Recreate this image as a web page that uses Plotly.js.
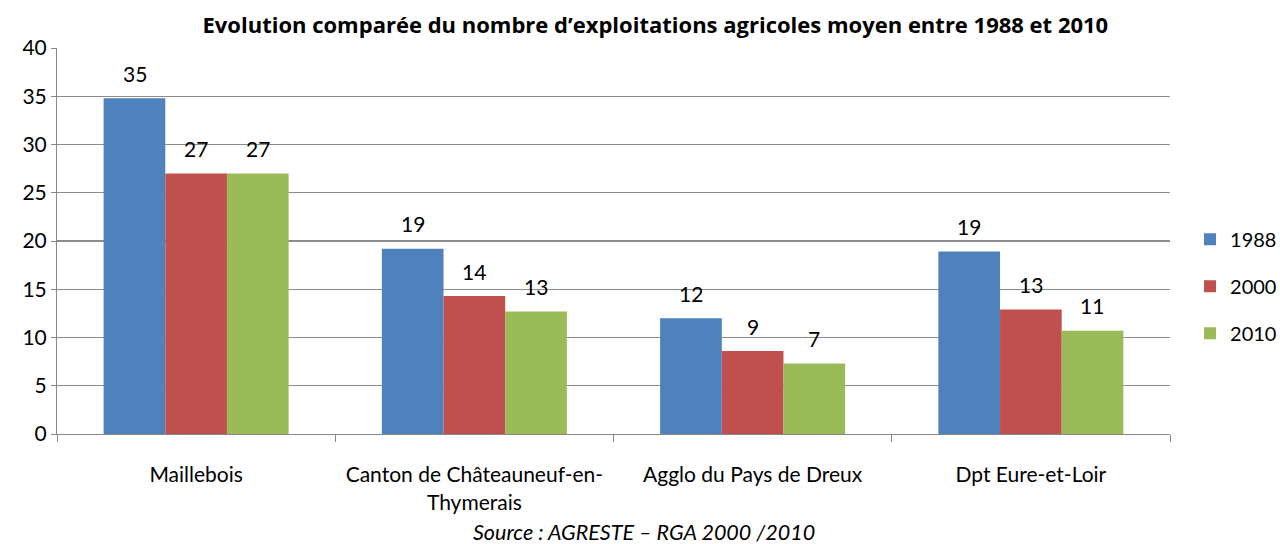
<!DOCTYPE html>
<html>
<head>
<meta charset="utf-8">
<script src="https://cdn.plot.ly/plotly-3.0.1.min.js"></script>
<style>html,body{margin:0;padding:0;background:#fff;}#chart{width:1280px;height:544px;}</style>
</head>
<body>
<div id="chart"></div>
<script>
const categories = ["Maillebois", "Canton de Châteauneuf-en-<br>Thymerais", "Agglo du Pays de Dreux", "Dpt Eure-et-Loir"];
const seriesNames = ["1988", "2000", "2010"];
const values1988 = [34.8, 19.2, 12.0, 18.9];
const values2000 = [27.0, 14.3, 8.6, 12.9];
const values2010 = [27.0, 12.7, 7.3, 10.7];
const labels1988 = ["35", "19", "12", "19"];
const labels2000 = ["27", "14", "9", "13"];
const labels2010 = ["27", "13", "7", "11"];
const colors = ["#4F81BD", "#C0504D", "#9BBB59"];
const yTicks = [0, 5, 10, 15, 20, 25, 30, 35, 40];

const FONT = "Lato, 'Open Sans', sans-serif";
const TITLE_FONT = "'Open Sans', Lato, sans-serif";
const allValues = [values1988, values2000, values2010];
const allLabels = [labels1988, labels2000, labels2010];

const traces = allValues.map((vals, i) => ({
  type: "bar",
  name: seriesNames[i],
  x: categories,
  y: vals,
  marker: {color: colors[i], line: {width: 0}},
  legendgroup: "g" + i,
  hoverinfo: "y"
}));

const annotations = [];
const barPx = 61.6;
allValues.forEach((vals, i) => {
  vals.forEach((v, j) => {
    annotations.push({
      x: categories[j], y: v, xref: "x", yref: "y",
      text: allLabels[i][j], showarrow: false,
      xshift: (i - 1) * barPx, yshift: 25,
      yanchor: "middle", xanchor: "center",
      font: {family: FONT, size: 21, color: "#000"}
    });
  });
});
annotations.push({
  text: "<i>Source : AGRESTE – RGA 2000 /2010</i>",
  xref: "paper", yref: "paper", x: 0.527, y: -0.254,
  xanchor: "center", yanchor: "middle", showarrow: false,
  font: {family: FONT, size: 21.5, color: "#000"}
});

const layout = {
  width: 1280, height: 544,
  margin: {l: 57, r: 110, t: 48, b: 110, autoexpand: false},
  paper_bgcolor: "#fff", plot_bgcolor: "#fff",
  title: {
    text: "<b>Evolution comparée du nombre d’exploitations agricoles moyen entre 1988 et 2010</b>",
    x: 0.512, xanchor: "center", y: 0.953, yanchor: "middle",
    font: {family: TITLE_FONT, size: 22, color: "#000"}
  },
  barmode: "group", bargap: 0.335, bargroupgap: 0,
  xaxis: {
    type: "category",
    tickson: "boundaries", ticks: "outside", ticklen: 7, tickcolor: "#888",
    showline: true, linecolor: "#888", linewidth: 1,
    showgrid: false, zeroline: false, automargin: false,
    ticklabelstandoff: 22,
    tickfont: {family: FONT, size: 21, color: "#000"}
  },
  yaxis: {
    range: [0, 40], tickvals: yTicks, ticks: "outside", ticklen: 5, tickcolor: "#888",
    showline: true, linecolor: "#888", linewidth: 1, automargin: false,
    showgrid: true, gridcolor: "#8c8c8c", gridwidth: 1.3, zeroline: false,
    tickfont: {family: FONT, size: 21, color: "#000"}
  },
  legend: {
    x: 1.018, xanchor: "left", y: 0.383, yanchor: "middle",
    font: {family: FONT, size: 20, color: "#000"},
    tracegroupgap: 18, traceorder: "grouped", itemwidth: 30,
    borderwidth: 0, bgcolor: "rgba(0,0,0,0)"
  },
  annotations: annotations,
  showlegend: true
};

Plotly.newPlot("chart", traces, layout, {displayModeBar: false, staticPlot: true});
</script>
</body>
</html>
